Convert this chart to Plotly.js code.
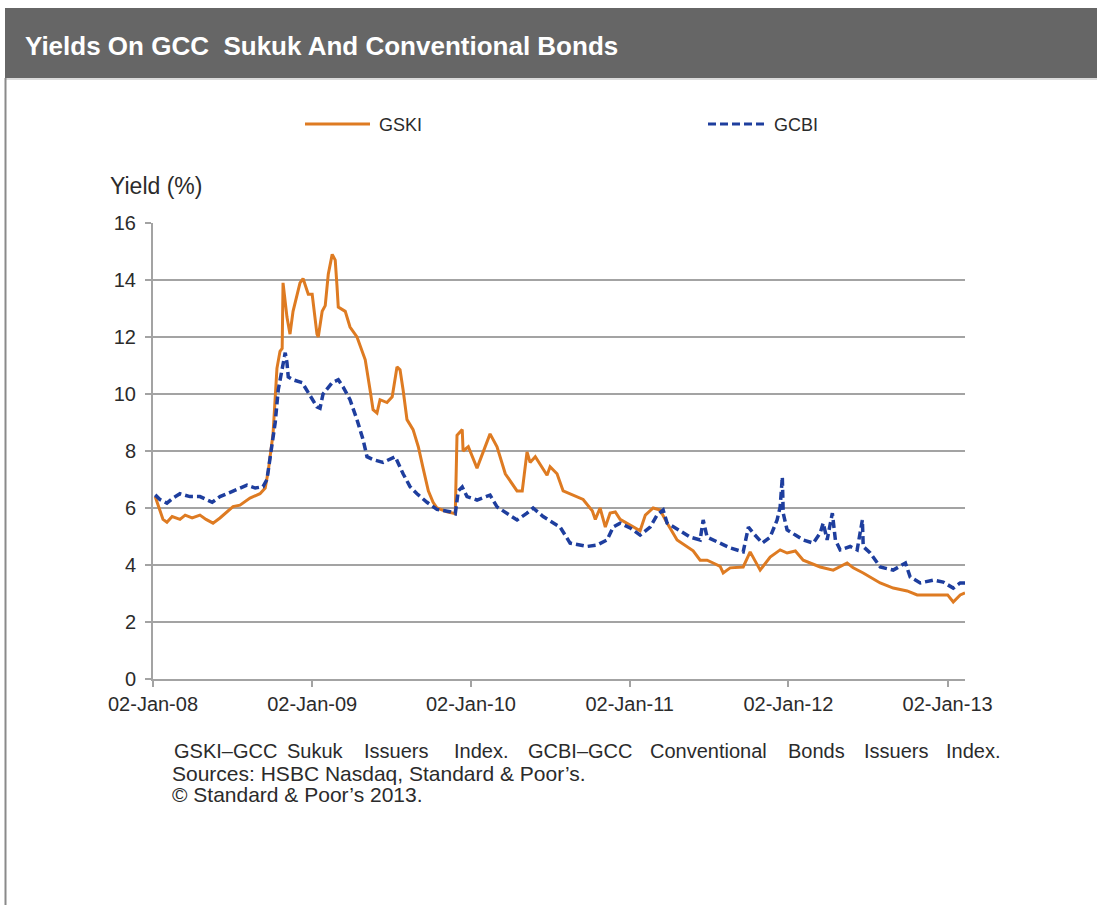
<!DOCTYPE html>
<html>
<head>
<meta charset="utf-8">
<script src="https://cdn.plot.ly/plotly-3.0.1.min.js"></script>
<style>
  html, body { margin: 0; padding: 0; background: #ffffff; }
  #chart { width: 1097px; height: 905px; }
</style>
</head>
<body>
<div id="chart"></div>
<script>
// GSKI -- GCC Sukuk Issuers Index, yield (%)
const gskiDates = [
  '2008-01-07','2008-01-14','2008-01-25','2008-02-03','2008-02-15','2008-03-04','2008-03-16','2008-04-01',
  '2008-04-19','2008-05-03','2008-05-19','2008-06-04','2008-06-20','2008-07-04','2008-07-20','2008-08-12',
  '2008-09-04','2008-09-16','2008-09-23','2008-10-04','2008-10-13','2008-10-20','2008-10-25','2008-10-27',
  '2008-11-05','2008-11-12','2008-11-19','2008-12-05','2008-12-12','2008-12-24','2009-01-02','2009-01-13',
  '2009-01-16','2009-01-25','2009-02-01','2009-02-08','2009-02-17','2009-02-24','2009-02-28','2009-03-03',
  '2009-03-19','2009-03-30','2009-04-15','2009-05-04','2009-05-15','2009-05-22','2009-05-31','2009-06-07',
  '2009-06-23','2009-07-05','2009-07-16','2009-07-23','2009-07-30','2009-08-08','2009-08-22','2009-09-03',
  '2009-09-14','2009-09-26','2009-10-07','2009-10-16','2009-11-08','2009-11-27','2009-12-01','2009-12-13',
  '2009-12-15','2009-12-27','2010-01-16','2010-02-15','2010-03-03','2010-03-22','2010-04-18','2010-04-30',
  '2010-05-11','2010-05-18','2010-05-30','2010-06-26','2010-07-03','2010-07-19','2010-08-02','2010-08-25',
  '2010-09-17','2010-10-08','2010-10-15','2010-10-26','2010-11-07','2010-11-18','2010-11-30','2010-12-11',
  '2011-01-10','2011-01-26','2011-02-07','2011-02-25','2011-03-13','2011-03-29','2011-04-21','2011-05-28',
  '2011-06-13','2011-06-29','2011-07-13','2011-07-29','2011-08-05','2011-08-21','2011-09-20','2011-10-06',
  '2011-10-29','2011-11-21','2011-12-14','2011-12-30','2012-01-18','2012-02-05','2012-03-15','2012-04-14',
  '2012-05-16','2012-05-30','2012-06-22','2012-07-31','2012-08-30','2012-10-01','2012-10-24','2012-12-09',
  '2013-01-02','2013-01-15','2013-01-31','2013-02-11'
];
const gskiYield = [
  6.40, 6.10, 5.60, 5.50, 5.70, 5.60, 5.75, 5.65,
  5.75, 5.60, 5.47, 5.65, 5.86, 6.05, 6.10, 6.35,
  6.50, 6.70, 7.30, 8.60, 10.90, 11.50, 11.60, 13.90,
  12.70, 12.10, 12.90, 13.90, 14.05, 13.50, 13.50, 12.10,
  12.00, 12.90, 13.10, 14.20, 14.90, 14.70, 13.80, 13.05,
  12.90, 12.35, 12.00, 11.20, 10.15, 9.45, 9.33, 9.80,
  9.70, 9.90, 10.95, 10.85, 10.15, 9.10, 8.75, 8.15,
  7.40, 6.60, 6.20, 6.00, 5.87, 5.80, 8.55, 8.75,
  8.00, 8.15, 7.40, 8.60, 8.15, 7.20, 6.60, 6.60,
  7.97, 7.60, 7.80, 7.15, 7.45, 7.20, 6.60, 6.45,
  6.30, 5.90, 5.60, 6.00, 5.33, 5.82, 5.86, 5.60,
  5.33, 5.20, 5.75, 6.00, 5.93, 5.47, 4.88, 4.50,
  4.17, 4.17, 4.07, 3.95, 3.72, 3.90, 3.93, 4.46,
  3.82, 4.28, 4.53, 4.42, 4.49, 4.17, 3.93, 3.82,
  4.07, 3.90, 3.72, 3.37, 3.19, 3.09, 2.95, 2.95,
  2.95, 2.70, 2.95, 3.02
];

// GCBI -- GCC Conventional Bonds Issuers Index, yield (%)
const gcbiDates = [
  '2008-01-07','2008-01-18','2008-02-03','2008-02-17','2008-03-04','2008-03-27','2008-04-19','2008-05-03',
  '2008-05-17','2008-06-04','2008-06-20','2008-07-20','2008-08-05','2008-08-24','2008-09-11','2008-09-20',
  '2008-10-02','2008-10-09','2008-10-16','2008-10-25','2008-11-01','2008-11-05','2008-11-08','2008-11-19',
  '2008-12-10','2008-12-24','2009-01-13','2009-01-20','2009-01-27','2009-02-17','2009-03-03','2009-03-14',
  '2009-03-30','2009-04-15','2009-04-29','2009-05-08','2009-05-22','2009-06-14','2009-06-30','2009-07-12',
  '2009-07-30','2009-08-15','2009-08-31','2009-09-23','2009-10-16','2009-11-15','2009-11-27','2009-12-04',
  '2009-12-13','2009-12-24','2010-01-16','2010-02-15','2010-03-03','2010-03-26','2010-04-18','2010-05-11',
  '2010-05-25','2010-06-17','2010-07-26','2010-08-18','2010-09-26','2010-10-19','2010-11-11','2010-11-25',
  '2010-12-11','2011-01-03','2011-01-26','2011-02-18','2011-03-06','2011-03-20','2011-03-29','2011-04-28',
  '2011-05-21','2011-06-13','2011-06-20','2011-06-29','2011-07-29','2011-08-21','2011-09-20','2011-10-02',
  '2011-10-13','2011-11-03','2011-11-21','2011-12-07','2011-12-14','2011-12-19','2011-12-21','2011-12-30',
  '2012-01-18','2012-02-05','2012-02-28','2012-03-15','2012-03-22','2012-03-31','2012-04-12','2012-04-19',
  '2012-04-30','2012-05-23','2012-06-08','2012-06-20','2012-06-22','2012-07-08','2012-07-31','2012-08-30',
  '2012-09-27','2012-10-08','2012-10-31','2012-11-30','2012-12-23','2013-01-15','2013-01-31','2013-02-11'
];
const gcbiYield = [
  6.46, 6.30, 6.17, 6.35, 6.50, 6.40, 6.40, 6.30,
  6.20, 6.40, 6.50, 6.70, 6.80, 6.70, 6.75, 7.00,
  8.15, 9.00, 10.15, 10.95, 11.45, 11.10, 10.60, 10.50,
  10.40, 10.05, 9.55, 9.50, 10.00, 10.40, 10.50, 10.25,
  9.80, 9.10, 8.40, 7.80, 7.70, 7.60, 7.70, 7.80,
  7.20, 6.75, 6.50, 6.20, 5.95, 5.87, 5.80, 6.60,
  6.74, 6.40, 6.28, 6.45, 6.04, 5.82, 5.58, 5.82,
  6.00, 5.70, 5.33, 4.77, 4.65, 4.70, 4.88, 5.33,
  5.47, 5.30, 5.05, 5.33, 5.75, 5.93, 5.47, 5.20,
  4.98, 4.88, 5.58, 4.98, 4.77, 4.60, 4.46, 5.33,
  5.12, 4.77, 4.98, 5.58, 6.04, 7.09, 5.82, 5.23,
  5.05, 4.88, 4.77, 5.12, 5.47, 4.88, 5.82, 4.88,
  4.53, 4.65, 4.53, 5.58, 4.65, 4.42, 3.93, 3.82,
  4.07, 3.58, 3.37, 3.47, 3.40, 3.19, 3.37, 3.37
];

// Axis ticks
const yearTicks = ['2008-01-02','2009-01-02','2010-01-02','2011-01-02','2012-01-02','2013-01-02'];
const yearLabels = ['02-Jan-08','02-Jan-09','02-Jan-10','02-Jan-11','02-Jan-12','02-Jan-13'];
const yTicks = [0, 2, 4, 6, 8, 10, 12, 14, 16];

// Text blocks
const chartTitle = 'Yields On GCC  Sukuk And Conventional Bonds';
const yTitle = 'Yield (%)';
const seriesNames = ['GSKI', 'GCBI'];
const noteWords = ['GSKI\u2013GCC', 'Sukuk', 'Issuers', 'Index.', 'GCBI\u2013GCC', 'Conventional', 'Bonds', 'Issuers', 'Index.'];
const noteLine2 = 'Sources: HSBC Nasdaq, Standard & Poor\u2019s.';
const noteLine3 = '\u00A9 Standard & Poor\u2019s 2013.';

// ---- page geometry (pixels) ----
const W = 1097, H = 905;
const M = { l: 153, r: 132, t: 223, b: 226 };
const PW = W - M.l - M.r, PH = H - M.t - M.b;
const fx = px => (px - M.l) / PW;            // pixel x -> paper x
const fy = py => (H - M.b - py) / PH;        // pixel y -> paper y

const ORANGE = '#DE7B22';
const BLUE = '#1E3E9E';
const GRID = '#A3A3A3';
const TEXT = '#2b2b2b';
const FONT = 'Liberation Sans, Arial, sans-serif';
const DASH = '8px,4px';

const traces = [
  {
    x: gskiDates, y: gskiYield, name: seriesNames[0], type: 'scatter', mode: 'lines',
    line: { color: ORANGE, width: 3 }, hoverinfo: 'skip'
  },
  {
    x: gcbiDates, y: gcbiYield, name: seriesNames[1], type: 'scatter', mode: 'lines',
    line: { color: BLUE, width: 3.5, dash: DASH }, hoverinfo: 'skip'
  }
];

// word positions for the justified first note line
const noteWordX = [172, 285, 362, 452, 526, 648, 786, 862, 944];

const annotations = [
  { text: yTitle, xref: 'paper', yref: 'paper', x: fx(108), y: fy(186), xanchor: 'left', yanchor: 'middle',
    showarrow: false, font: { family: FONT, size: 23, color: TEXT } },
  { text: seriesNames[0], xref: 'paper', yref: 'paper', x: fx(377), y: fy(125), xanchor: 'left', yanchor: 'middle',
    showarrow: false, font: { family: FONT, size: 18, color: TEXT } },
  { text: seriesNames[1], xref: 'paper', yref: 'paper', x: fx(772), y: fy(125), xanchor: 'left', yanchor: 'middle',
    showarrow: false, font: { family: FONT, size: 18, color: TEXT } },
  { text: noteLine2, xref: 'paper', yref: 'paper', x: fx(170), y: fy(773), xanchor: 'left', yanchor: 'middle',
    showarrow: false, font: { family: FONT, size: 21, color: TEXT } },
  { text: noteLine3, xref: 'paper', yref: 'paper', x: fx(170), y: fy(794), xanchor: 'left', yanchor: 'middle',
    showarrow: false, font: { family: FONT, size: 21, color: TEXT } }
];
noteWords.forEach((w, i) => annotations.push({
  text: w, xref: 'paper', yref: 'paper', x: fx(noteWordX[i]), y: fy(751), xanchor: 'left', yanchor: 'middle',
  showarrow: false, font: { family: FONT, size: 20, color: TEXT }
}));

const shapes = [
  // header bar
  { type: 'rect', xref: 'paper', yref: 'paper', x0: fx(5), x1: fx(W + 2), y0: fy(78), y1: fy(8),
    fillcolor: '#666666', line: { width: 0 }, layer: 'below' },
  { type: 'line', xref: 'paper', yref: 'paper', x0: fx(5), x1: fx(W + 2), y0: fy(79), y1: fy(79),
    line: { color: '#cfcfcf', width: 1.5 } },
  // left frame line
  { type: 'line', xref: 'paper', yref: 'paper', x0: fx(5.5), x1: fx(5.5), y0: fy(78), y1: fy(H + 2),
    line: { color: '#8a8a8a', width: 2 } },
  // legend samples
  { type: 'line', xref: 'paper', yref: 'paper', x0: fx(305), x1: fx(370), y0: fy(124), y1: fy(124),
    line: { color: ORANGE, width: 3 } },
  { type: 'line', xref: 'paper', yref: 'paper', x0: fx(708), x1: fx(768), y0: fy(124), y1: fy(124),
    line: { color: BLUE, width: 3, dash: DASH } }
];

const layout = {
  width: W, height: H,
  margin: M,
  paper_bgcolor: '#ffffff', plot_bgcolor: '#ffffff',
  showlegend: false,
  title: {
    text: '<b>' + chartTitle + '</b>',
    x: 25 / W, xanchor: 'left', xref: 'container',
    y: 1 - 46 / H, yanchor: 'middle', yref: 'container',
    font: { family: 'Liberation Sans Narrow, Liberation Sans, Arial, sans-serif', size: 26, color: '#ffffff' }
  },
  xaxis: {
    type: 'date',
    range: ['2008-01-02', '2013-02-11'],
    tickmode: 'array', tickvals: yearTicks, ticktext: yearLabels,
    showgrid: false, zeroline: false,
    showline: true, linecolor: GRID, linewidth: 2,
    ticks: 'outside', ticklen: 6, tickwidth: 2, tickcolor: GRID,
    tickfont: { family: FONT, size: 20, color: TEXT },
    fixedrange: true
  },
  yaxis: {
    range: [0, 16],
    tickmode: 'array', tickvals: yTicks,
    showgrid: true, gridcolor: GRID, gridwidth: 2,
    zeroline: false,
    showline: true, linecolor: GRID, linewidth: 2,
    ticks: 'outside', ticklen: 6, tickwidth: 2, tickcolor: GRID,
    ticklabelstandoff: 5,
    tickfont: { family: FONT, size: 20, color: TEXT },
    fixedrange: true
  },
  shapes: shapes,
  annotations: annotations
};

Plotly.newPlot('chart', traces, layout, { displayModeBar: false, staticPlot: true });
</script>
</body>
</html>
